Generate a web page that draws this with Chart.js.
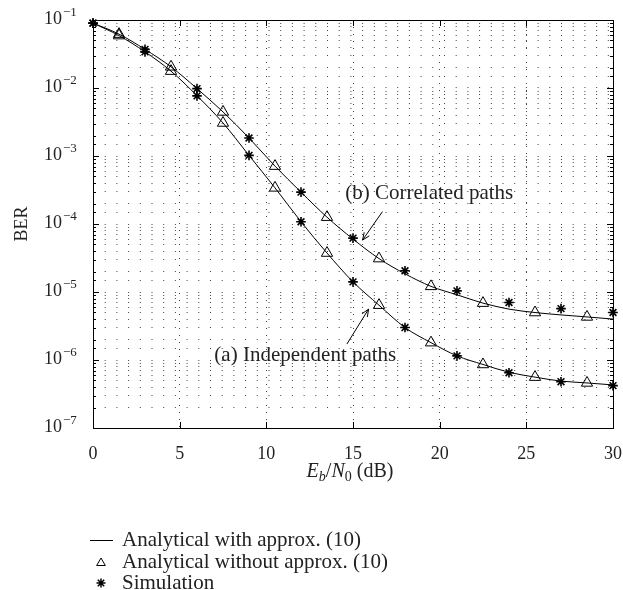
<!DOCTYPE html>
<html>
<head>
<meta charset="utf-8">
<script src="https://cdn.jsdelivr.net/npm/chart.js@4.4.0/dist/chart.umd.min.js"></script>
<style>
  html, body { margin: 0; padding: 0; background: #fff; }
  #wrap { width: 623px; height: 590px; }
</style>
</head>
<body>
<div id="wrap"><canvas id="berChart" width="623" height="590"></canvas></div>
<script>
"use strict";

// Eb/N0 (dB) 축 값
const snrLine = [0, 1.5, 3, 4.5, 6, 7.5, 9, 10.5, 12, 13.5, 15, 16.5, 18, 19.5, 21, 22.5, 24, 25.5, 27, 28.5, 30];
const snrTri = [1.5, 4.5, 7.5, 10.5, 13.5, 16.5, 19.5, 22.5, 25.5, 28.5];
const snrSim = [0, 3, 6, 9, 12, 15, 18, 21, 24, 27, 30];

// (a) Independent paths
const indepApprox = [0.09, 0.059, 0.034, 0.0177, 0.0077, 0.00306, 0.00102, 3.4e-4, 1.08e-4, 3.74e-5, 1.41e-5,
  6.4e-6, 3.0e-6, 1.8e-6, 1.15e-6, 8.6e-7, 6.6e-7, 5.6e-7, 4.9e-7, 4.6e-7, 4.3e-7];
const indepExact = [0.059, 0.0177, 0.00306, 3.4e-4, 3.74e-5, 6.4e-6, 1.8e-6, 8.6e-7, 5.6e-7, 4.6e-7];
const indepSim = [0.09, 0.034, 0.00766, 0.00102, 1.08e-4, 1.41e-5, 3.0e-6, 1.15e-6, 6.5e-7, 4.8e-7, 4.2e-7];

// (b) Correlated paths
const corrApprox = [0.09, 0.062, 0.037, 0.0205, 0.0098, 0.00445, 0.00184, 7.1e-4, 2.94e-4, 1.26e-4, 6.0e-5,
  3.1e-5, 1.85e-5, 1.21e-5, 9.1e-6, 6.86e-6, 5.6e-6, 4.99e-6, 4.6e-6, 4.3e-6, 4.0e-6];
const corrExact = [0.062, 0.0205, 0.00445, 7.1e-4, 1.26e-4, 3.1e-5, 1.21e-5, 6.86e-6, 4.99e-6, 4.3e-6];
const corrSim = [0.09, 0.037, 0.0098, 0.00184, 2.94e-4, 6.2e-5, 2.05e-5, 1.04e-5, 7.0e-6, 5.7e-6, 5.0e-6];

// 눈금 라벨 (10^n)
const yTickExp = [-7, -6, -5, -4, -3, -2, -1];
const legendNames = ['Analytical with approx. (10)', 'Analytical without approx. (10)', 'Simulation'];

// 주석: [text, x, y, arrowFromX, arrowFromY, arrowToX, arrowToY] (데이터 좌표)
const notes = [
  ['(b) Correlated paths', 19.4, 2.8e-4, 16.7, 1.52e-4, 15.55, 5.8e-5],
  ['(a) Independent paths', 12.25, 1.15e-6, 14.65, 1.72e-6, 15.9, 5.6e-6]
];

const serif = '"Liberation Serif", "DejaVu Serif", serif';
const ink = '#222';

let pts = (xs, ys) => xs.map((v, i) => ({ x: v, y: ys[i] }));

// 위첨자용 마이너스 기호
let supText = (e) => String(e).replace('-', '\u2212');

// 축 테두리, 눈금, 라벨, 범례, 주석 그리기
const decor = {
  id: 'decor',
  afterDraw(chart) {
    const { ctx, chartArea: a, scales: { x, y } } = chart;
    ctx.save();
    ctx.strokeStyle = '#000';
    ctx.lineWidth = 1;
    ctx.strokeRect(a.left + 0.5, a.top + 0.5, a.right - a.left, a.bottom - a.top);

    // y ticks (inside, both sides)
    ctx.beginPath();
    y.ticks.forEach(t => {
      const lg = Math.log10(t.value);
      const major = Math.abs(lg - Math.round(lg)) < 1e-6;
      const len = major ? 6 : 3;
      const py = Math.round(y.getPixelForValue(t.value)) + 0.5;
      ctx.moveTo(a.left, py); ctx.lineTo(a.left + len, py);
      ctx.moveTo(a.right, py); ctx.lineTo(a.right - len, py);
    });
    x.ticks.forEach(t => {
      const px = Math.round(x.getPixelForValue(t.value)) + 0.5;
      ctx.moveTo(px, a.top); ctx.lineTo(px, a.top + 6);
      ctx.moveTo(px, a.bottom); ctx.lineTo(px, a.bottom - 6);
    });
    ctx.stroke();

    // y tick labels 10^n
    ctx.fillStyle = ink;
    ctx.textBaseline = 'middle';
    yTickExp.forEach(e => {
      const py = y.getPixelForValue(Math.pow(10, e));
      ctx.font = '18px ' + serif;
      ctx.textAlign = 'right';
      ctx.fillText('10', 62, py - 1);
      ctx.font = '13px ' + serif;
      ctx.textAlign = 'left';
      ctx.fillText(supText(e), 63, py - 7);
    });

    // y title
    ctx.save();
    ctx.translate(22, (a.top + a.bottom) / 2);
    ctx.rotate(-Math.PI / 2);
    ctx.textAlign = 'center';
    ctx.font = '18px ' + serif;
    ctx.fillText('BER', 0, 0);
    ctx.restore();

    // x title: E_b/N_0 (dB)
    const parts = [
      ['E', 'italic 20px ', 0], ['b', 'italic 14px ', 4], ['/', '20px ', 0],
      ['N', 'italic 20px ', 0], ['0', '14px ', 4], [' (dB)', '20px ', 0]
    ];
    let total = 0;
    parts.forEach(p => { ctx.font = p[1] + serif; total += ctx.measureText(p[0]).width; });
    let cx = (a.left + a.right) / 2 - total / 2 - 3;
    ctx.textAlign = 'left';
    ctx.textBaseline = 'alphabetic';
    parts.forEach(p => {
      ctx.font = p[1] + serif;
      ctx.fillText(p[0], cx, 477 + p[2]);
      cx += ctx.measureText(p[0]).width;
    });

    // annotations
    ctx.textAlign = 'center';
    ctx.textBaseline = 'middle';
    ctx.font = '21px ' + serif;
    notes.forEach(n => {
      ctx.fillText(n[0], x.getPixelForValue(n[1]), y.getPixelForValue(n[2]));
      const x1 = x.getPixelForValue(n[3]), y1 = y.getPixelForValue(n[4]);
      const x2 = x.getPixelForValue(n[5]), y2 = y.getPixelForValue(n[6]);
      const ang = Math.atan2(y2 - y1, x2 - x1);
      ctx.beginPath();
      ctx.moveTo(x1, y1); ctx.lineTo(x2, y2);
      ctx.moveTo(x2 - 8 * Math.cos(ang - 0.4), y2 - 8 * Math.sin(ang - 0.4));
      ctx.lineTo(x2, y2);
      ctx.lineTo(x2 - 8 * Math.cos(ang + 0.4), y2 - 8 * Math.sin(ang + 0.4));
      ctx.stroke();
    });

    // legend
    const lx = 101, ly = [540, 562, 583];
    ctx.beginPath();
    ctx.moveTo(lx - 11, ly[0] + 0.5); ctx.lineTo(lx + 12, ly[0] + 0.5);
    ctx.stroke();
    ctx.fillStyle = 'rgba(0,0,0,0)';
    Chart.helpers.drawPoint(ctx, { pointStyle: 'triangle', radius: 5, borderWidth: 1 }, lx, ly[1] + 1);
    ctx.lineWidth = 1.5;
    Chart.helpers.drawPoint(ctx, { pointStyle: 'star', radius: 4.5, borderWidth: 1.5 }, lx, ly[2]);
    ctx.fillStyle = ink;
    ctx.font = '21px ' + serif;
    ctx.textAlign = 'left';
    legendNames.forEach((s, i) => ctx.fillText(s, 122, ly[i]));
    ctx.restore();
  }
};

const lineStyle = { showLine: true, pointRadius: 0, borderWidth: 1, borderColor: '#000', cubicInterpolationMode: 'monotone' };
const triStyle = { showLine: false, pointStyle: 'triangle', pointRadius: 6.5, borderWidth: 1, borderColor: '#000', backgroundColor: 'rgba(0,0,0,0)', clip: false };
const simStyle = { showLine: false, pointStyle: 'star', pointRadius: 4.8, borderWidth: 1.6, borderColor: '#000', backgroundColor: '#000', clip: false };

new Chart(document.getElementById('berChart'), {
  type: 'line',
  data: {
    datasets: [
      Object.assign({ label: 'approx a', data: pts(snrLine, indepApprox) }, lineStyle),
      Object.assign({ label: 'approx b', data: pts(snrLine, corrApprox) }, lineStyle),
      Object.assign({ label: 'exact a', data: pts(snrTri, indepExact) }, triStyle),
      Object.assign({ label: 'exact b', data: pts(snrTri, corrExact) }, triStyle),
      Object.assign({ label: 'sim a', data: pts(snrSim, indepSim) }, simStyle),
      Object.assign({ label: 'sim b', data: pts(snrSim, corrSim) }, simStyle)
    ]
  },
  options: {
    responsive: false,
    animation: false,
    layout: { padding: { top: 20, right: 10, left: 0, bottom: 0 } },
    plugins: { legend: { display: false }, tooltip: { enabled: false } },
    scales: {
      x: {
        type: 'linear', min: 0, max: 30,
        ticks: { stepSize: 5, font: { family: serif, size: 18 }, color: ink, padding: 0, maxRotation: 0 },
        grid: { color: '#444', lineWidth: 1, drawTicks: true, tickLength: 15, tickColor: 'rgba(0,0,0,0)' },
        border: { display: false, dash: [1, 6] },
        afterFit(s) { s.height = 162; }
      },
      y: {
        type: 'logarithmic', min: 1e-7, max: 1e-1,
        ticks: { display: false },
        grid: { color: '#444', lineWidth: 1, drawTicks: false },
        border: { display: false, dash: [1, 10.7] },
        afterFit(s) { s.width = 93; }
      }
    }
  },
  plugins: [decor]
});
</script>
</body>
</html>
